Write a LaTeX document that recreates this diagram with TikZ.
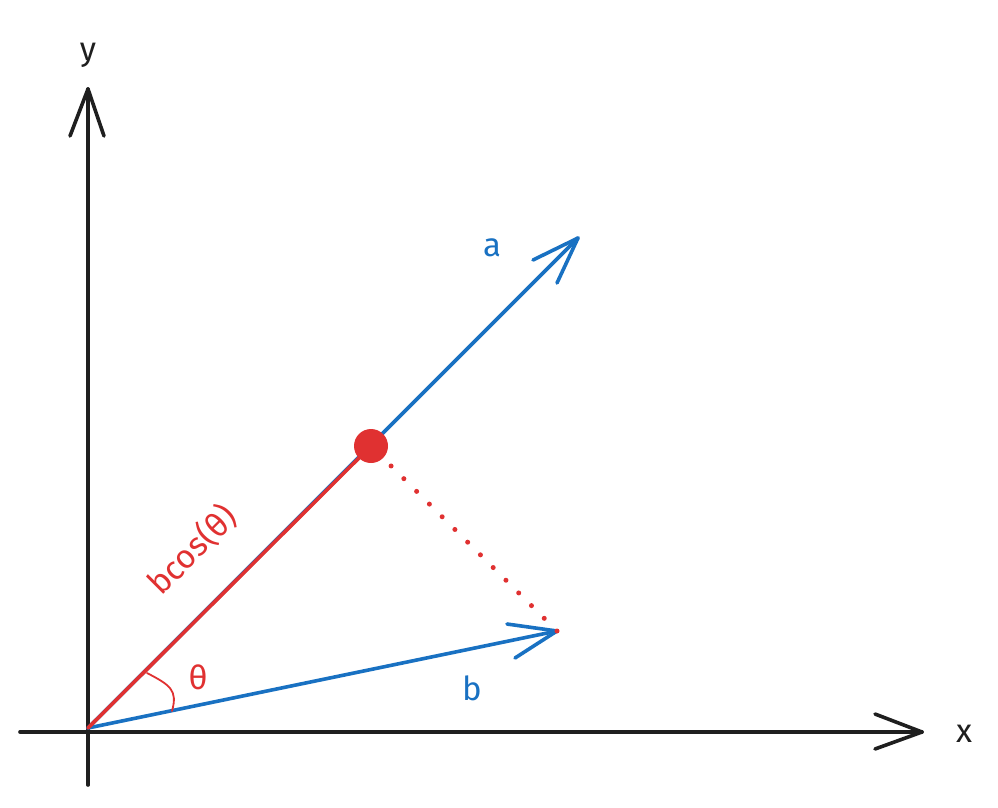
\documentclass[tikz,border=0pt]{standalone}
\usepackage{fontspec}
\setmainfont{Fira Sans}
\begin{document}
\begin{tikzpicture}[x=1pt,y=-1pt,
  axis/.style={line width=3.6pt,draw=black!88,line cap=round,line join=round},
  bluev/.style={line width=3.6pt,draw=vblue,line cap=round,line join=round},
  redv/.style={line width=3.6pt,draw=vred,line cap=round,line join=round},
  lbl/.style={font=\fontsize{33}{33}\selectfont\mdseries,inner sep=0pt}]
\definecolor{vblue}{HTML}{1971C2}
\definecolor{vred}{HTML}{E03131}
\useasboundingbox (0,0) rectangle (998,807);
% named points
\coordinate (O) at (88,728);
\coordinate (xs) at (20,732);
\coordinate (xe) at (922,732);
\coordinate (ys) at (88,785);
\coordinate (ye) at (88,89);
\coordinate (ae) at (578,238);
\coordinate (be) at (557,631);
\coordinate (P) at (371,446);
% axes
\draw[axis] (xs) -- (xe);
\draw[axis] (875,714) -- (xe) -- (875,749);
\draw[axis] (ys) -- (ye);
\draw[axis] (70,136) -- (ye) -- (104,136);
% vector a
\draw[bluev] (O) -- (ae);
\draw[bluev] (533,260) -- (ae) -- (557,283);
% vector b
\draw[bluev] (O) -- (be);
\draw[bluev] (507,624) -- (be) -- (515,658);
% projection
\draw[redv] (O) -- (P);
\draw[vred,line width=5pt,line cap=round,dash pattern=on 0pt off 18pt] (be) -- (P);
\node[circle,fill=vred,minimum size=34pt,inner sep=0pt] (dot) at (P) {};
% angle arc
\draw[vred,line width=1.8pt,line cap=round] (147,673) .. controls (170,685) and (178,690) .. (172,711);
% labels
\node[lbl,text=black!88] (ylab) at (88,55) {y};
\node[lbl,text=black!88] (xlab) at (964,734) {x};
\node[lbl,text=vblue] (alab) at (492,248) {a};
\node[lbl,text=vblue] (blab) at (472,688) {b};
\node[lbl,text=vred] (tlab) at (198,677) {θ};
\node[lbl,text=vred,rotate=45] (bcos) at (192,550) {bcos(θ)};
\end{tikzpicture}
\end{document}
